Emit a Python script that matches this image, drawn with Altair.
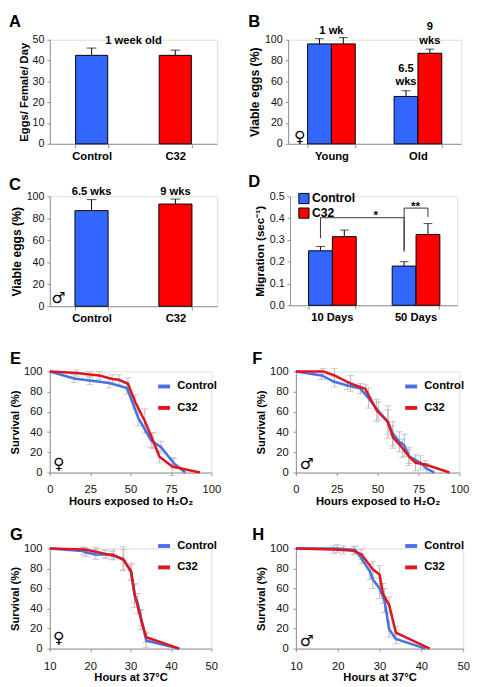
import altair as alt
import pandas as pd

FONT = "Liberation Sans"
SYMFONT = "DejaVu Sans"
BLUE, RED = "#3366FF", "#FF0000"
LBLUE, LRED = "#4672E6", "#E0161E"
GRAY = "#8f8f8f"
ERRC = "#b8b8b8"
SERIES = ["Control", "C32"]

# ---------------- Panel A ----------------
a_cats = ["Control", "C32"]
a_vals = [42.5, 42.5]
a_err = [3.5, 2.5]
a_note = "1 week old"

# ---------------- Panel B ----------------
b_groups = ["Young", "Old"]
b_grp = ["Young", "Young", "Old", "Old"]
b_ser = ["Control", "C32", "Control", "C32"]
b_vals = [96, 96, 45.5, 87]
b_err = [5, 6, 5.5, 4]
b_note_grp = ["Old", "Old"]
b_note_ser = ["Control", "C32"]
b_note_txt = ["6.5\nwks", "9\nwks"]
b_note_y = [72, 112]
b_young_note = "1 wk"
b_young_y = 108

# ---------------- Panel C ----------------
c_cats = ["Control", "C32"]
c_vals = [87, 93]
c_err = [10, 4.5]
c_notes = ["6.5 wks", "9 wks"]
c_note_y = [103.5, 103.5]

# ---------------- Panel D ----------------
d_groups = ["10 Days", "50 Days"]
d_grp = ["10 Days", "10 Days", "50 Days", "50 Days"]
d_ser = ["Control", "C32", "Control", "C32"]
d_vals = [0.25, 0.315, 0.18, 0.325]
d_err = [0.02, 0.03, 0.02, 0.05]
br_id = ["s1", "s1", "s1", "s1", "s2", "s2", "s2", "s2"]
br_grp = ["10 Days", "10 Days", "50 Days", "50 Days", "50 Days", "50 Days", "50 Days", "50 Days"]
br_ser = ["Control", "Control", "Control", "Control", "Control", "Control", "C32", "C32"]
br_y = [0.308, 0.402, 0.402, 0.245, 0.254, 0.446, 0.446, 0.406]
br_ord = [0, 1, 2, 3, 0, 1, 2, 3]
sig1_txt, sig1_y = "*", 0.383
sig2_txt, sig2_y = "**", 0.425

# ---------------- Panel E (H2O2, female) ----------------
e_ctrl_h = [0, 15, 24.7, 36.7, 47.8, 54.8, 62.8, 68.9, 76.9, 83.9]
e_ctrl_s = [100, 93, 91, 88.5, 83.6, 54, 31.7, 25, 9, 0]
e_ctrl_e = [0, 4, 4, 5, 6, 8, 7, 6, 5, 0]
e_c32_h = [0, 16.7, 24.7, 30.7, 38.7, 42.8, 48.4, 52.8, 58.8, 63.9, 67.9, 75.9, 93]
e_c32_s = [100, 98.4, 97, 96, 92.6, 91.7, 87.8, 70, 51, 31.7, 15.7, 6, 0]
e_c32_e = [0, 3, 3, 4, 4, 5, 6, 7, 12, 8, 6, 9, 0]

# ---------------- Panel F (H2O2, male) ----------------
f_ctrl_h = [0, 15.7, 23.6, 31.5, 39.5, 44.4, 50.4, 56.3, 59.3, 63.3, 66.3, 69.2, 76.2, 80, 84.7]
f_ctrl_s = [100, 96, 89.7, 86, 83, 73.7, 61, 50, 38.5, 30.4, 27, 16, 9.6, 4, 0]
f_ctrl_e = [0, 4, 5, 4, 5, 10, 9, 12, 12, 10, 11, 9, 7, 5, 0]
f_c32_h = [0, 16.7, 23.6, 33.5, 42.5, 49.4, 56.3, 59.3, 65.3, 69.2, 73.2, 79.2, 94]
f_c32_s = [100, 100, 96, 88, 82.7, 61.5, 50, 35, 24, 16, 9.6, 8, 0]
f_c32_e = [0, 3, 7, 8, 4, 11, 16, 11, 9, 7, 8, 4, 0]

# ---------------- Panel G (37C, female) ----------------
g_ctrl_h = [10, 18.2, 19, 21.4, 23.8, 25.4, 28.2, 30.2, 31, 31.8, 32.6, 33.9, 42]
g_ctrl_s = [100, 97.4, 96, 94, 94, 93, 89.7, 75.8, 53, 45, 30.6, 8, 0]
g_ctrl_e = [0, 4, 4, 5, 4, 4, 12, 8, 12, 10, 8, 7, 0]
g_c32_h = [10, 18.6, 21.4, 23.8, 25.8, 28.2, 30.1, 31, 32.6, 33.9, 42.1]
g_c32_s = [100, 99, 96.8, 94.5, 93.5, 88.7, 77.4, 54.8, 29, 11.3, 0]
g_c32_e = [0, 2, 4, 4, 5, 10, 8, 9, 10, 5, 0]

# ---------------- Panel H (37C, male) ----------------
h_ctrl_h = [10, 19.9, 24.2, 25.7, 27.7, 28.4, 30, 31.2, 32.3, 33.9, 41]
h_ctrl_s = [100, 100, 98.4, 90, 77, 69, 60, 48, 19.4, 9.7, 0]
h_ctrl_e = [0, 4, 4, 5, 8, 9, 10, 12, 8, 5, 0]
h_c32_h = [10, 19, 21.4, 23.8, 25.7, 28.4, 30, 30.8, 32.3, 33.9, 42]
h_c32_s = [100, 99, 98.5, 97.7, 94, 79, 74, 55, 43.5, 16, 0]
h_c32_e = [0, 4, 4, 4, 5, 8, 9, 10, 8, 6, 0]


# ---------------- helpers ----------------
def yax(title, values, fmt=None, tsize=12, lsize=11, lpad=3):
    d = dict(title=title, values=values, grid=False, tickSize=3, tickColor=GRAY,
             domainColor=GRAY, labelFont=FONT, labelFontSize=lsize, labelColor="#111",
             labelPadding=lpad, labelFlush=False, labelOverlap=False,
             titleFont=FONT, titleFontSize=tsize,
             titleFontWeight="bold", titleColor="black", titlePadding=3)
    if fmt:
        d["format"] = fmt
    return alt.Axis(**d)


def ymaker(domain, axis):
    sc = alt.Scale(domain=domain, nice=False)
    return lambda f: alt.Y(f, scale=sc, axis=axis)


def xbar_axis():
    return alt.Axis(title=None, labelAngle=0, labelFont=FONT, labelFontSize=11.5,
                    labelFontWeight="bold", labelColor="black", tickBand="extent",
                    tickSize=4, tickColor=GRAY, domainColor=GRAY, labelPadding=3)


def letter(t, dx, dy):
    return alt.Chart(pd.DataFrame({"t": [t]})).mark_text(
        font=FONT, fontSize=17, fontWeight="bold", align="left", baseline="top",
        color="black").encode(text="t:N", x=alt.value(dx), y=alt.value(dy))


def gsym(ch, dx, dy):
    return alt.Chart(pd.DataFrame({"t": [ch]})).mark_text(
        font=SYMFONT, fontSize=16, fontWeight="bold", align="center", baseline="middle",
        color="black").encode(text="t:N", x=alt.value(dx), y=alt.value(dy))


def single_bars(cats, vals, err, ymax, yvals, ytitle, pi, po, tsize):
    df = pd.DataFrame({"cat": cats, "val": vals, "err": err})
    df["top"] = df["val"] + df["err"]
    x = alt.X("cat:N", sort=cats, axis=xbar_axis(),
              scale=alt.Scale(paddingInner=pi, paddingOuter=po))
    Y = ymaker([0, ymax], yax(ytitle, yvals, tsize=tsize))
    col = alt.Color("cat:N", scale=alt.Scale(domain=cats, range=[BLUE, RED]), legend=None)
    base = alt.Chart(df)
    bars = base.mark_bar(stroke="black", strokeWidth=1).encode(x=x, y=Y("val:Q"), color=col)
    rule = base.mark_rule(color="black", strokeWidth=1).encode(x=x, y=Y("val:Q"), y2="top:Q")
    cap = base.mark_tick(color="black", size=10, thickness=1, orient="horizontal").encode(
        x=x, y=Y("top:Q"))
    return x, Y, [bars, rule, cap]


# ---------------- A ----------------
WA, HA = 172, 107
xA, YA, layersA = single_bars(a_cats, a_vals, a_err, 50, [0, 10, 20, 30, 40, 50],
                              "Eggs/ Female/ Day", 0.616, 0.308, 11.5)
noteA = alt.Chart(pd.DataFrame({"t": [a_note], "val": [49.5]})).mark_text(
    font=FONT, fontSize=11.5, fontWeight="bold", baseline="middle").encode(
    text="t:N", x=alt.value(WA / 2), y=YA("val:Q"))
chartA = alt.layer(*layersA, noteA, letter("A", -42, -26)).properties(width=WA, height=HA)

# ---------------- B ----------------
WB, HB = 178, 107
dfB = pd.DataFrame({"grp": b_grp, "ser": b_ser, "val": b_vals, "err": b_err})
dfB["top"] = dfB["val"] + dfB["err"]
xB = alt.X("grp:N", sort=b_groups, axis=xbar_axis(),
           scale=alt.Scale(paddingInner=0.449, paddingOuter=0.225))
xoB = alt.XOffset("ser:N", sort=SERIES, scale=alt.Scale(domain=SERIES, paddingInner=0, paddingOuter=0))
YB = ymaker([0, 100], yax("Viable eggs (%)", [0, 20, 40, 60, 80, 100], tsize=12.5))
colB = alt.Color("ser:N", scale=alt.Scale(domain=SERIES, range=[BLUE, RED]), legend=None)
baseB = alt.Chart(dfB)
barsB = baseB.mark_bar(stroke="black", strokeWidth=1).encode(x=xB, xOffset=xoB, y=YB("val:Q"), color=colB)
ruleB = baseB.mark_rule(color="black").encode(x=xB, xOffset=xoB, y=YB("val:Q"), y2="top:Q")
capB = baseB.mark_tick(color="black", size=9, thickness=1, orient="horizontal").encode(
    x=xB, xOffset=xoB, y=YB("top:Q"))
notesB = alt.Chart(pd.DataFrame({"grp": b_note_grp, "ser": b_note_ser, "t": b_note_txt,
                                 "val": b_note_y})).mark_text(
    font=FONT, fontSize=11.5, fontWeight="bold", baseline="middle", lineBreak="\n",
    lineHeight=14).encode(text="t:N", x=xB, xOffset=xoB, y=YB("val:Q"))
youngB = alt.Chart(pd.DataFrame({"grp": ["Young"], "t": [b_young_note], "val": [b_young_y]})).mark_text(
    font=FONT, fontSize=11.5, fontWeight="bold", baseline="middle").encode(
    text="t:N", x=xB, y=YB("val:Q"))
chartB = alt.layer(barsB, ruleB, capB, notesB, youngB, gsym("\u2640", 12, HB - 7),
                   letter("B", -41, -26)).properties(width=WB, height=HB)

# ---------------- C ----------------
WC, HC = 172, 113
xC, YC, layersC = single_bars(c_cats, c_vals, c_err, 100, [0, 20, 40, 60, 80, 100],
                              "Viable eggs (%)", 0.605, 0.30, 12.5)
notesC = alt.Chart(pd.DataFrame({"cat": c_cats, "t": c_notes, "val": c_note_y})).mark_text(
    font=FONT, fontSize=11.5, fontWeight="bold", baseline="middle").encode(
    text="t:N", x=xC, y=YC("val:Q"))
chartC = alt.layer(*layersC, notesC, gsym("\u2642", 9, HC - 8),
                   letter("C", -42, -20)).properties(width=WC, height=HC)

# ---------------- D ----------------
WD, HD = 172, 112
dfD = pd.DataFrame({"grp": d_grp, "ser": d_ser, "val": d_vals, "err": d_err})
dfD["top"] = dfD["val"] + dfD["err"]
xD = alt.X("grp:N", sort=d_groups, axis=xbar_axis(),
           scale=alt.Scale(paddingInner=0.442, paddingOuter=0.221))
xoD = alt.XOffset("ser:N", sort=SERIES, scale=alt.Scale(domain=SERIES, paddingInner=0, paddingOuter=0))
YD = ymaker([0, 0.5], yax("Migration (sec\u207B\u00B9)", [0, 0.1, 0.2, 0.3, 0.4, 0.5], fmt=".1f", tsize=12))
colD = alt.Color("ser:N", scale=alt.Scale(domain=SERIES, range=[BLUE, RED]),
                 legend=alt.Legend(title=None, orient="none", legendX=8, legendY=-4,
                                   symbolType="square", symbolSize=110,
                                   symbolStrokeColor="black", symbolStrokeWidth=1,
                                   labelFont=FONT, labelFontSize=12.5, labelFontWeight="bold",
                                   labelColor="black", rowPadding=0, labelOffset=2,
                                   symbolOpacity=1))
baseD = alt.Chart(dfD)
barsD = baseD.mark_bar(stroke="black", strokeWidth=1).encode(x=xD, xOffset=xoD, y=YD("val:Q"), color=colD)
ruleD = baseD.mark_rule(color="black").encode(x=xD, xOffset=xoD, y=YD("val:Q"), y2="top:Q")
capD = baseD.mark_tick(color="black", size=9, thickness=1, orient="horizontal").encode(
    x=xD, xOffset=xoD, y=YD("top:Q"))
dfBr = pd.DataFrame({"id": br_id, "grp": br_grp, "ser": br_ser, "val": br_y, "ord": br_ord})
brD = alt.Chart(dfBr).mark_line(color="#333", strokeWidth=1).encode(
    x=xD, xOffset=xoD, y=YD("val:Q"), detail="id:N", order="ord:Q")
sig1 = alt.Chart(pd.DataFrame({"grp": ["50 Days"], "t": [sig1_txt], "val": [sig1_y]})).mark_text(
    font=FONT, fontSize=12, fontWeight="bold", baseline="bottom", dx=-41).encode(
    text="t:N", x=xD, y=YD("val:Q"))
sig2 = alt.Chart(pd.DataFrame({"grp": ["50 Days"], "t": [sig2_txt], "val": [sig2_y]})).mark_text(
    font=FONT, fontSize=12, fontWeight="bold", baseline="bottom").encode(
    text="t:N", x=xD, y=YD("val:Q"))
chartD = alt.layer(barsD, ruleD, capD, brD, sig1, sig2,
                   letter("D", -43, -23)).properties(width=WD, height=HD)


# ---------------- survival panels ----------------
def surv(ctrl, c32, xdom, xvals, xtitle, W, H, legX, legY, let, letdx, letdy, sym, sdx, sdy):
    ch, cs, ce = ctrl
    rh, rs, re = c32
    df = pd.DataFrame({"h": ch + rh, "s": cs + rs, "e": ce + re,
                       "ser": ["Control"] * len(ch) + ["C32"] * len(rh)})
    df["lo"] = df["s"] - df["e"]
    df["hi"] = df["s"] + df["e"]
    x = alt.X("h:Q", scale=alt.Scale(domain=xdom, nice=False),
              axis=alt.Axis(title=xtitle, values=xvals, grid=False, tickSize=3, tickColor=GRAY,
                            domainColor=GRAY, labelFont=FONT, labelFontSize=11.5, labelColor="#111",
                            labelPadding=9, labelFlush=False, labelOverlap=False,
                            titleFont=FONT, titleFontSize=11.5,
                            titleFontWeight="bold", titleColor="black", titlePadding=0))
    Y = ymaker([0, 100], yax("Survival (%)", [0, 20, 40, 60, 80, 100], tsize=11.5, lsize=11.5, lpad=5))
    col = alt.Color("ser:N", scale=alt.Scale(domain=SERIES, range=[LBLUE, LRED]),
                    legend=alt.Legend(title=None, orient="none", legendX=legX, legendY=legY,
                                      symbolType="stroke", symbolStrokeWidth=4, symbolSize=150,
                                      labelFont=FONT, labelFontSize=11.5, labelFontWeight="bold",
                                      labelColor="black", rowPadding=5, labelOffset=5))
    base = alt.Chart(df)
    ebase = base.transform_filter("datum.e > 0")
    eb = ebase.mark_rule(color=ERRC, strokeWidth=1).encode(x=x, y=Y("lo:Q"), y2="hi:Q")
    chi = ebase.mark_tick(color=ERRC, size=7, thickness=1, orient="horizontal").encode(x=x, y=Y("hi:Q"))
    clo = ebase.mark_tick(color=ERRC, size=7, thickness=1, orient="horizontal").encode(x=x, y=Y("lo:Q"))
    lc = base.transform_filter("datum.ser == 'Control'").mark_line(strokeWidth=2.6).encode(
        x=x, y=Y("s:Q"), color=col, order="h:Q")
    lr = base.transform_filter("datum.ser == 'C32'").mark_line(strokeWidth=2.6).encode(
        x=x, y=Y("s:Q"), color=col, order="h:Q")
    return alt.layer(eb, chi, clo, lc, lr, gsym(sym, sdx, sdy),
                     letter(let, letdx, letdy)).properties(width=W, height=H)


H2O2 = "Hours exposed to H\u2082O\u2082"
chartE = surv((e_ctrl_h, e_ctrl_s, e_ctrl_e), (e_c32_h, e_c32_s, e_c32_e), [0, 100],
              [0, 25, 50, 75, 100], H2O2, 166, 104, 109, 7, "E", -41, -21, "\u2640", 9, 95)
chartF = surv((f_ctrl_h, f_ctrl_s, f_ctrl_e), (f_c32_h, f_c32_s, f_c32_e), [0, 100],
              [0, 25, 50, 75, 100], H2O2, 168, 104, 110, 7, "F", -45, -21, "\u2642", 11, 95)
chartG = surv((g_ctrl_h, g_ctrl_s, g_ctrl_e), (g_c32_h, g_c32_s, g_c32_e), [10, 50],
              [10, 20, 30, 40, 50], "Hours at 37\u00B0C", 166, 103, 109, -11, "G", -41, -22,
              "\u2640", 9, 92)
chartH = surv((h_ctrl_h, h_ctrl_s, h_ctrl_e), (h_c32_h, h_c32_s, h_c32_e), [10, 50],
              [10, 20, 30, 40, 50], "Hours at 37\u00B0C", 172, 103, 110, -11, "H", -45, -22,
              "\u2642", 11, 95)


def indep(c):
    return c.resolve_scale(color="independent").resolve_legend(color="independent")


row1 = indep(alt.hconcat(chartA, chartB, spacing=30))
row2 = indep(alt.hconcat(chartC, chartD, spacing=30))
row3 = indep(alt.hconcat(chartE, chartF, spacing=30))
row4 = indep(alt.hconcat(chartG, chartH, spacing=34))

chart = indep(alt.vconcat(
    indep(alt.vconcat(row1, row2, spacing=10)),
    indep(alt.vconcat(row3, row4, spacing=18)),
    spacing=25,
)).properties(
    padding={"left": 0, "top": -5, "right": 0, "bottom": 0}
).configure_view(stroke=None).configure(background="white")

chart.save("out.html", embed_options={"renderer": "svg", "actions": False})
